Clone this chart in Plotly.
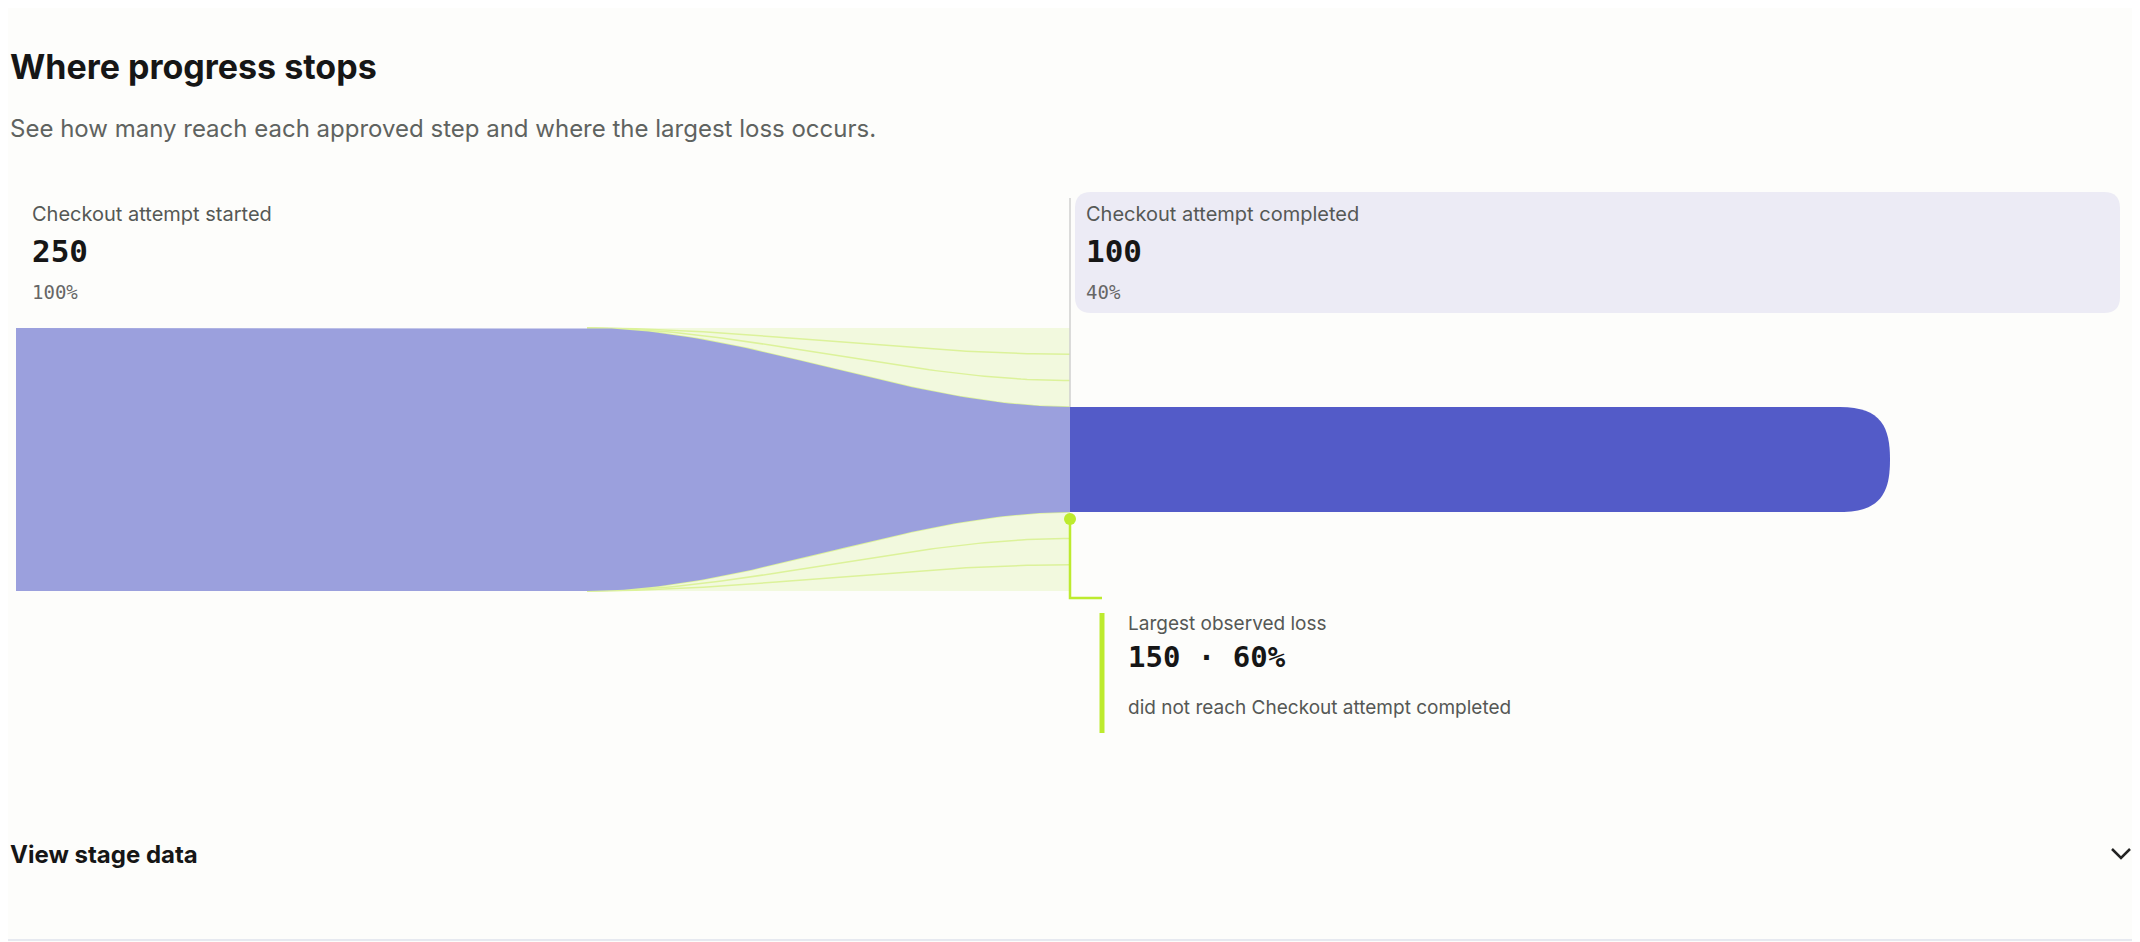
import numpy as np
import plotly.graph_objects as go

W, H = 2140, 942
OFF = 8  # page body margin of the written html
FW, FH = W - OFF, H - OFF

# data
stages = ["Checkout attempt started", "Checkout attempt completed"]
counts = [250, 100]
percents = ["100%", "40%"]
loss_count = 150
loss_pct = "60%"
loss_splits = [1 / 3, 2 / 3]  # thin divider lines inside the loss area

# geometry (page pixels)
PX_PER_UNIT = 1.052
CY = 459.5
X0, X_CURVE, X1, X2 = 16, 587, 1070, 1890

BG = "#FDFDFB"
LIGHT = "#9BA0DD"
DARK = "#535BC8"
LOSS_FILL = "#F2F9DE"
LOSS_LINE = "#DCF29A"
LIME = "#BDEB2E"


def px(p):
    return (p - OFF) / FW


def py(p):
    return 1 - (p - OFF) / FH


def smooth(t):
    return t * t * (3 - 2 * t)


fig = go.Figure()

top0, top1 = counts[0] / 2, counts[1] / 2
t = np.linspace(0, 1, 80)
xs = X_CURVE + (X1 - X_CURVE) * t
curve_top = top0 + (top1 - top0) * smooth(t)

# loss area (top and bottom)
for sgn in (1, -1):
    fig.add_trace(go.Scatter(
        x=list(xs) + [X1, X_CURVE],
        y=list(sgn * curve_top) + [sgn * top0, sgn * top0],
        fill="toself", fillcolor=LOSS_FILL, mode="lines",
        line=dict(color=LOSS_FILL, width=0), hoverinfo="skip", showlegend=False,
    ))
    for f in loss_splits:
        end = top0 - (top0 - top1) * f
        fig.add_trace(go.Scatter(
            x=xs, y=sgn * (top0 + (end - top0) * smooth(t)), mode="lines",
            line=dict(color=LOSS_LINE, width=1.5), hoverinfo="skip", showlegend=False,
        ))
    fig.add_trace(go.Scatter(
        x=xs, y=sgn * curve_top, mode="lines",
        line=dict(color=LOSS_LINE, width=1.5), hoverinfo="skip", showlegend=False,
    ))

# started band
fig.add_trace(go.Scatter(
    x=[X0] + list(xs) + list(xs[::-1]) + [X0],
    y=[top0] + list(curve_top) + list(-curve_top[::-1]) + [-top0],
    fill="toself", fillcolor=LIGHT, mode="lines", line=dict(width=0),
    hoverinfo="skip", showlegend=False,
))

# completed bar with rounded end
r = 50
fig.add_shape(type="path", xref="x", yref="y", fillcolor=DARK, line=dict(width=0),
              path=(f"M {X1},{top1} L {X2 - r},{top1} C {X2 - 8},{top1} {X2},{top1 * 0.6} {X2},0 "
                    f"C {X2},{-top1 * 0.6} {X2 - 8},{-top1} {X2 - r},{-top1} L {X1},{-top1} Z"))

# grey stage divider
fig.add_shape(type="line", xref="x", yref="paper", x0=X1, x1=X1, y0=py(198), y1=py(407),
              line=dict(color="#CFCFCF", width=1.5))


def rrect(x0, y0, x1, y1, rad):
    a, b, c, d = px(x0), px(x1), py(y0), py(y1)
    rx, ry = rad / FW, rad / FH
    return (f"M {a+rx},{c} L {b-rx},{c} Q {b},{c} {b},{c-ry} L {b},{d+ry} Q {b},{d} {b-rx},{d} "
            f"L {a+rx},{d} Q {a},{d} {a},{d+ry} L {a},{c-ry} Q {a},{c} {a+rx},{c} Z")


fig.add_shape(type="path", xref="paper", yref="paper", path=rrect(1075, 192, 2120, 313, 16),
              fillcolor="#ECEBF5", line=dict(width=0), layer="below")

# lime bracket
fig.add_shape(type="path", xref="paper", yref="paper",
              path=f"M {px(X1)},{py(519)} L {px(X1)},{py(598)} L {px(1102)},{py(598)}",
              line=dict(color=LIME, width=2.5))
fig.add_shape(type="circle", xref="paper", yref="paper",
              x0=px(X1 - 6), x1=px(X1 + 6), y0=py(525), y1=py(513),
              fillcolor=LIME, line=dict(width=0))
fig.add_shape(type="line", xref="paper", yref="paper", x0=px(1102), x1=px(1102),
              y0=py(613), y1=py(733), line=dict(color=LIME, width=5))

# chevron
fig.add_shape(type="path", xref="paper", yref="paper",
              path=f"M {px(2112)},{py(849)} L {px(2121)},{py(858)} L {px(2130)},{py(849)}",
              line=dict(color="#222", width=2.5))
fig.add_shape(type="line", xref="paper", yref="paper", x0=0, x1=1, y0=py(940), y1=py(940),
              line=dict(color="#E6E9F0", width=2))

SANS = "Inter, Noto Sans, sans-serif"
MONO = "DejaVu Sans Mono, monospace"


def txt(x, y, s, size, color, font=SANS):
    fig.add_annotation(x=max(px(x), 0), y=py(y), xref="paper", yref="paper", text=s, showarrow=False,
                       xanchor="left", yanchor="middle", font=dict(family=font, size=size, color=color))


txt(0, 66, "<b>Where progress stops</b>", 34, "#161616")
txt(0, 129, "See how many reach each approved step and where the largest loss occurs.", 24, "#5F6360")
for xx, name, n, p in [(30, stages[0], counts[0], percents[0]), (1084, stages[1], counts[1], percents[1])]:
    txt(xx, 214, name, 20, "#555855")
    txt(xx, 251, f"<b>{n}</b>", 31, "#161616", MONO)
    txt(xx, 292, p, 19, "#666", MONO)
txt(1126, 623, "Largest observed loss", 19, "#555855")
txt(1126, 657, f"<b>{loss_count} · {loss_pct}</b>", 29, "#161616", MONO)
txt(1126, 707, f"did not reach {stages[1]}", 19, "#555855")
txt(2, 854, "<b>View stage data</b>", 24, "#161616")

fig.update_layout(
    width=FW, height=FH, margin=dict(l=0, r=0, t=0, b=0),
    paper_bgcolor=BG, plot_bgcolor=BG,
    xaxis=dict(range=[OFF, W], visible=False, fixedrange=True),
    yaxis=dict(range=[-(H - CY) / PX_PER_UNIT, (CY - OFF) / PX_PER_UNIT], visible=False, fixedrange=True),
)
fig.write_html("out.html")
